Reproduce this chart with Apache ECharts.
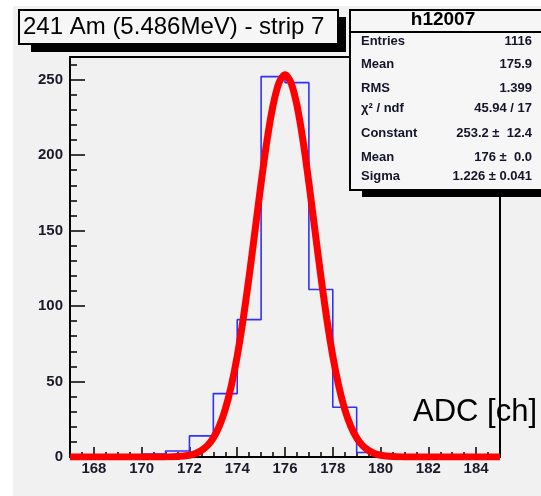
<!DOCTYPE html>
<html><head><meta charset="utf-8">
<script src="https://cdn.jsdelivr.net/npm/echarts@6/dist/echarts.min.js"></script>
<style>html,body{margin:0;padding:0;background:#fff}#c{width:541px;height:496px}</style>
</head><body><div id="c"></div>
<script>
// ---- data ----
const binLow = [167,168,169,170,171,172,173,174,175,176,177,178,179,180,181,182,183,184];
const binWidth = 1;
const counts = [0,0,0,2,4,14,42,91,252,248,111,33,3,0,0,0,0,0];
const fitX = [167,168,169,170,170.5,171,171.5,172,172.25,172.5,172.75,173,173.25,173.5,173.75,174,174.25,174.5,174.75,175,175.25,175.5,175.75,176,176.25,176.5,176.75,177,177.25,177.5,177.75,178,178.25,178.5,178.75,179,179.25,179.5,179.75,180,180.5,181,181.5,182,183,184,185];
const fitY = [0,0,0,0,0,0.06,0.3,1.2,2.35,4.3,7.5,12.7,20.5,31.6,47,66.9,91.4,119.8,150.6,181.5,210,233,248,253.2,248,233,210,181.5,150.6,119.8,91.4,66.9,47,31.6,20.5,12.7,7.5,4.3,2.35,1.2,0.3,0.06,0,0,0,0,0];
const xTickLabels = [168,170,172,174,176,178,180,182,184];
const yTickLabels = [0,50,100,150,200,250];
const titleText = '241 Am (5.486MeV) - strip 7';
const statsTitle = 'h12007';
const statsNames = ['Entries','Mean','RMS','\u03c7\u00b2 / ndf','Constant','Mean','Sigma'];
const statsValues = ['1116','175.9','1.399','45.94 / 17','253.2 \u00b1  12.4','176 \u00b1  0.0','1.226 \u00b1 0.041'];
const xAxisTitle = 'ADC [ch]';

// ---- build ----
const stepData = [];
binLow.forEach((lo, i) => { stepData.push([lo, counts[i]]); stepData.push([lo + binWidth, counts[i]]); });
const fitData = fitX.map((x, i) => [x, fitY[i]]);

const FF = '"Liberation Sans", Arial, sans-serif';
const rowY = [41, 64, 88, 108, 133, 157, 176];
const graphics = [
  {type:'rect', shape:{x:0,y:0,width:13,height:496}, style:{fill:'#fff'}, z:100, silent:true},
  {type:'rect', shape:{x:0,y:0,width:541,height:6}, style:{fill:'#fff'}, z:100, silent:true},
  {type:'rect', shape:{x:31,y:17,width:315,height:35}, style:{fill:'#000'}, z:100},
  {type:'rect', shape:{x:19,y:10,width:319,height:34}, style:{fill:'#f6f6f6', stroke:'#000', lineWidth:2}, z:101},
  {type:'text', x:23, y:27, style:{text:titleText, font:'24px ' + FF, fill:'#000', verticalAlign:'middle', align:'left'}, z:102},
  {type:'rect', shape:{x:362,y:185,width:200,height:12}, style:{fill:'#000'}, z:100},
  {type:'rect', shape:{x:350,y:10,width:200,height:180}, style:{fill:'#f6f6f6', stroke:'#000', lineWidth:2}, z:101},
  {type:'line', shape:{x1:350,y1:32,x2:541,y2:32}, style:{stroke:'#000', lineWidth:2}, z:102},
  {type:'text', x:443, y:20, style:{text:statsTitle, font:'bold 19px ' + FF, fill:'#000', verticalAlign:'middle', align:'center'}, z:102},
  {type:'text', x:413, y:412, style:{text:xAxisTitle, font:'31px ' + FF, fill:'#000', verticalAlign:'middle', align:'left'}, z:102}
];
statsNames.forEach((n, i) => {
  graphics.push({type:'text', x:361, y:rowY[i], style:{text:n, font:'bold 13px ' + FF, fill:'#14142a', verticalAlign:'middle', align:'left'}, z:102});
  graphics.push({type:'text', x:532, y:rowY[i], style:{text:statsValues[i], font:'bold 13px ' + FF, fill:'#14142a', verticalAlign:'middle', align:'right'}, z:102});
});

const chart = echarts.init(document.getElementById('c'), null, {renderer:'canvas'});
chart.setOption({
  animation:false,
  backgroundColor:'#f1f1f1',
  grid:{left:70, right:41, top:57, bottom:39, show:true, borderColor:'#000', borderWidth:2, backgroundColor:'transparent'},
  xAxis:[
    {type:'value', min:167, max:185, position:'bottom',
     axisLine:{show:true, onZero:false, lineStyle:{color:'#000', width:2}},
     axisTick:{show:true, inside:true, length:10, customValues:xTickLabels, lineStyle:{color:'#000', width:1.5}},
     axisLabel:{customValues:xTickLabels, fontSize:15, fontWeight:'bold', color:'#1a1a2a', margin:4, fontFamily:FF},
     splitLine:{show:false}},
    {type:'value', min:167, max:185, interval:0.5, position:'bottom',
     axisLine:{show:false, onZero:false},
     axisTick:{show:true, inside:true, length:5, lineStyle:{color:'#000', width:1.5}},
     axisLabel:{show:false}, splitLine:{show:false}}
  ],
  yAxis:[
    {type:'value', min:0, max:265, position:'left',
     axisLine:{show:true, onZero:false, lineStyle:{color:'#000', width:2}},
     axisTick:{show:true, inside:true, length:15, customValues:yTickLabels, lineStyle:{color:'#000', width:1.5}},
     axisLabel:{customValues:yTickLabels, fontSize:15, fontWeight:'bold', color:'#1a1a2a', margin:7, fontFamily:FF},
     splitLine:{show:false}},
    {type:'value', min:0, max:265, interval:10, position:'left',
     axisLine:{show:false, onZero:false},
     axisTick:{show:true, inside:true, length:7, lineStyle:{color:'#000', width:1.5}},
     axisLabel:{show:false}, splitLine:{show:false}}
  ],
  series:[
    {type:'line', xAxisIndex:0, yAxisIndex:0, data:stepData, showSymbol:false, symbol:'none',
     lineStyle:{color:'#3030ff', width:1.6}, z:3},
    {type:'line', xAxisIndex:0, yAxisIndex:0, data:fitData, showSymbol:false, symbol:'none', smooth:0.3,
     lineStyle:{color:'#ff0000', width:7}, z:4}
  ],
  graphic:graphics
});
</script></body></html>
